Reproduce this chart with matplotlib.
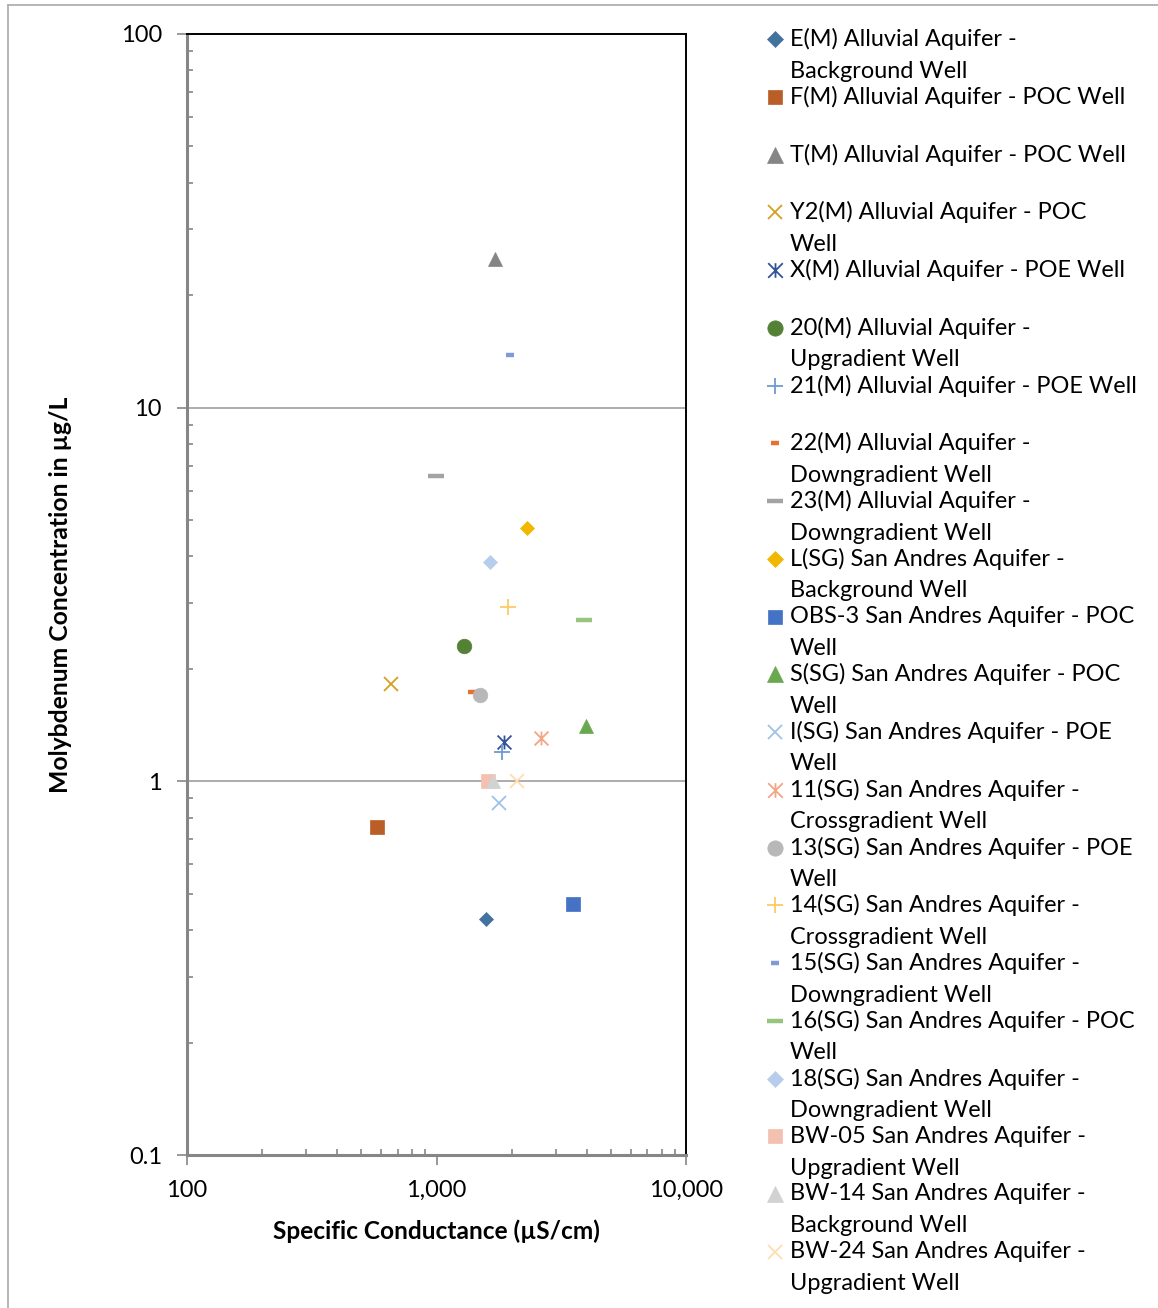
import matplotlib
matplotlib.use("Agg")
import matplotlib.pyplot as plt
from matplotlib.lines import Line2D
from matplotlib.path import Path
from matplotlib.ticker import LogLocator, FixedLocator, NullFormatter

plt.rcParams['font.family'] = ['Lato', 'DejaVu Sans']

# ---- data ----
labels = [
    "E(M) Alluvial Aquifer -\nBackground Well",
    "F(M) Alluvial Aquifer - POC Well",
    "T(M) Alluvial Aquifer - POC Well",
    "Y2(M) Alluvial Aquifer - POC\nWell",
    "X(M) Alluvial Aquifer - POE Well",
    "20(M) Alluvial Aquifer -\nUpgradient Well",
    "21(M) Alluvial Aquifer - POE Well",
    "22(M) Alluvial Aquifer -\nDowngradient Well",
    "23(M) Alluvial Aquifer -\nDowngradient Well",
    "L(SG) San Andres Aquifer -\nBackground Well",
    "OBS-3 San Andres Aquifer - POC\nWell",
    "S(SG) San Andres Aquifer - POC\nWell",
    "I(SG) San Andres Aquifer - POE\nWell",
    "11(SG) San Andres Aquifer -\nCrossgradient Well",
    "13(SG) San Andres Aquifer - POE\nWell",
    "14(SG) San Andres Aquifer -\nCrossgradient Well",
    "15(SG) San Andres Aquifer -\nDowngradient Well",
    "16(SG) San Andres Aquifer - POC\nWell",
    "18(SG) San Andres Aquifer -\nDowngradient Well",
    "BW-05 San Andres Aquifer -\nUpgradient Well",
    "BW-14 San Andres Aquifer -\nBackground Well",
    "BW-24 San Andres Aquifer -\nUpgradient Well",
]
conductance = [1578, 576, 1711, 655, 1865, 1285, 1824, 1387, 997, 2312, 3515,
               3974, 1780, 2623, 1494, 1940, 1971, 3911, 1639, 1604, 1690, 2101]
molybdenum = [0.428, 0.756, 25.0, 1.82, 1.276, 2.30, 1.196, 1.737, 6.57, 4.75, 0.471,
              1.403, 0.875, 1.306, 1.699, 2.92, 13.85, 2.70, 3.86, 1.0, 1.0, 1.0]
colors = ['#44729F', '#B95E26', '#858585', '#D4A020', '#30539A', '#538135',
          '#6C9BD2', '#E9712F', '#A3A3A3', '#F2B700', '#4472C4', '#6AA84F',
          '#9DC3E6', '#F4A584', '#B8B8B8', '#FFC966', '#7F9AD6', '#97C47F',
          '#B6CDEB', '#F4C0B0', '#D2D2D2', '#FFDDB0']
x_ticks = [100, 1000, 10000]
x_ticklabels = ["100", "1,000", "10,000"]
y_ticks = [0.1, 1, 10, 100]
y_ticklabels = ["0.1", "1", "10", "100"]

# ---- marker styles ----
star = Path([(-0.5, -0.5), (0.5, 0.5), (-0.5, 0.5), (0.5, -0.5), (0, -0.5), (0, 0.5)],
            [Path.MOVETO, Path.LINETO, Path.MOVETO, Path.LINETO, Path.MOVETO, Path.LINETO])
short_dash = dict(marker='_', ms=6, mew=3.2)
long_dash = dict(marker='_', ms=11, mew=3.2)
styles = [
    dict(marker='D', ms=7.3),
    dict(marker='s', ms=10),
    dict(marker='^', ms=10.5),
    dict(marker='x', ms=10, mew=1.3, fillstyle='none'),
    dict(marker=star, ms=10, mew=1.3, fillstyle='none'),
    dict(marker='o', ms=10.5),
    dict(marker='+', ms=11, mew=1.3),
    short_dash,
    long_dash,
    dict(marker='D', ms=7.3),
    dict(marker='s', ms=10),
    dict(marker='^', ms=10.5),
    dict(marker='x', ms=10, mew=1.3, fillstyle='none'),
    dict(marker=star, ms=10, mew=1.3, fillstyle='none'),
    dict(marker='o', ms=10.5),
    dict(marker='+', ms=11, mew=1.3),
    short_dash,
    long_dash,
    dict(marker='D', ms=7.3),
    dict(marker='s', ms=10),
    dict(marker='^', ms=10.5),
    dict(marker='x', ms=10, mew=1.3, fillstyle='none'),
]

W, H = 1158, 1308
fig = plt.figure(figsize=(W / 100, H / 100), dpi=100)
ax = fig.add_axes([187 / W, 1 - 1155 / H, (686 - 187) / W, (1155 - 34) / H])

ax.set_xscale('log')
ax.set_yscale('log')
ax.set_xlim(100, 10000)
ax.set_ylim(0.1, 100)

for xv, yv, c, st in zip(conductance, molybdenum, colors, styles):
    kw = dict(st)
    filled = kw.get('fillstyle') != 'none' and kw['marker'] not in ('+', '_')
    if filled:
        ax.plot([xv], [yv], linestyle='none', color=c, mec=c, mew=0.5, **kw)
    else:
        ax.plot([xv], [yv], linestyle='none', color=c, mec=c, **kw)

# grid
ax.yaxis.grid(True, which='major', color='#A6A6A6', lw=1.3)
ax.set_axisbelow(True)

# spines
for s in ('left', 'bottom'):
    ax.spines[s].set_color('#868686')
    ax.spines[s].set_linewidth(2.2)
for s in ('top', 'right'):
    ax.spines[s].set_color('black')
    ax.spines[s].set_linewidth(1.4)

ax.xaxis.set_major_locator(FixedLocator(x_ticks))
ax.yaxis.set_major_locator(FixedLocator(y_ticks))
ax.set_xticklabels(x_ticklabels)
ax.set_yticklabels(y_ticklabels)
ax.xaxis.set_minor_locator(LogLocator(base=10, subs=range(2, 10)))
ax.yaxis.set_minor_locator(LogLocator(base=10, subs=range(2, 10)))
ax.xaxis.set_minor_formatter(NullFormatter())
ax.yaxis.set_minor_formatter(NullFormatter())

ax.tick_params(axis='both', which='major', direction='out', length=7, width=1.2,
               color='#868686', labelsize=17, labelcolor='black')
ax.tick_params(axis='both', which='minor', direction='in', length=4, width=1.2, color='#868686')
ax.tick_params(axis='y', which='major', pad=11)
ax.tick_params(axis='x', which='major', pad=11)

ax.set_xlabel("Specific Conductance (µS/cm)", fontsize=17.6, fontweight='bold', labelpad=13)
ax.set_ylabel("Molybdenum Concentration in µg/L", fontsize=17.8, fontweight='bold', labelpad=35)

# ---- manual legend ----
y0 = 39
step = 57.75
line_gap = 32
for i, (lab, c, st) in enumerate(zip(labels, colors, styles)):
    yc = y0 + step * i
    kw = dict(st)
    m = kw.pop('marker')
    ms = kw.pop('ms')
    mew = kw.pop('mew', 0.5)
    fs = kw.pop('fillstyle', 'full')
    fig.add_artist(Line2D([775 / W], [1 - yc / H], transform=fig.transFigure,
                          linestyle='none', marker=m, markersize=ms * 1.05,
                          color=c, mec=c, mew=mew, fillstyle=fs))
    for j, part in enumerate(lab.split("\n")):
        fig.text(790 / W, 1 - (yc + j * line_gap) / H, part, fontsize=16.9,
                 ha='left', va='center', color='black')

# partial outer border (top and left visible)
fig.add_artist(Line2D([8 / W, 1], [1 - 5 / H, 1 - 5 / H], transform=fig.transFigure,
                      color='#B0B0B0', lw=1.3))
fig.add_artist(Line2D([8 / W, 8 / W], [0, 1 - 5 / H], transform=fig.transFigure,
                      color='#B0B0B0', lw=1.3))

fig.savefig("out.png", dpi=100)
